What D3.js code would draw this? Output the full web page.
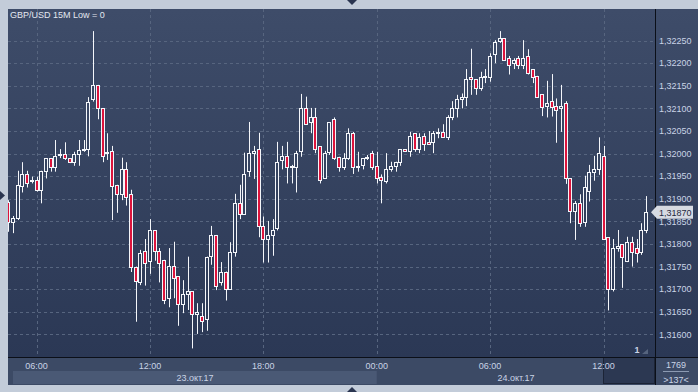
<!DOCTYPE html>
<html>
<head>
<meta charset="utf-8">
<script src="https://cdn.jsdelivr.net/npm/d3@7"></script>
<style>
  html, body { margin: 0; padding: 0; background: #c3ccd9; }
  svg { display: block; }
</style>
</head>
<body>
<svg id="chart" width="698" height="392"></svg>
<script>
// GBP/USD 15M candles, 23-24 Oct 2017. Values.

const START = new Date(2017, 9, 23, 4, 30);   // first candle
const STEP_MIN = 15;

const open = [
  1.31894, 1.31849, 1.31858, 1.31929, 1.31954, 1.31939, 1.31941, 1.31919, 1.31962, 1.31990,
  1.31970, 1.31999, 1.32000, 1.31990, 1.31981, 1.32000, 1.32009, 1.32010, 1.32120, 1.32151,
  1.32100, 1.32001, 1.32006, 1.31931, 1.31910, 1.31966, 1.31911, 1.31750, 1.31715, 1.31785,
  1.31763, 1.31831, 1.31785, 1.31765, 1.31680, 1.31751, 1.31729, 1.31667, 1.31690, 1.31696,
  1.31645, 1.31641, 1.31634, 1.31774, 1.31820, 1.31715, 1.31739, 1.31700, 1.31783, 1.31890,
  1.31866, 1.31962, 1.32001, 1.32010, 1.31840, 1.31811, 1.31820, 1.31835, 1.31986, 1.31995,
  1.31973, 1.31970, 1.32006, 1.32100, 1.32069, 1.32080, 1.32016, 1.31945, 1.32004, 1.32076,
  1.31993, 1.31970, 1.31990, 1.32045, 1.31970, 1.31975, 1.31990, 1.32001, 1.31973, 1.31949,
  1.31940, 1.31965, 1.31973, 1.31981, 1.32010, 1.32006, 1.32045, 1.32010, 1.32040, 1.32025,
  1.32025, 1.32048, 1.32048, 1.32036, 1.32080, 1.32100, 1.32121, 1.32125, 1.32170, 1.32164,
  1.32145, 1.32169, 1.32170, 1.32220, 1.32250, 1.32255, 1.32211, 1.32200, 1.32211, 1.32195,
  1.32216, 1.32187, 1.32172, 1.32131, 1.32105, 1.32116, 1.32105, 1.32101, 1.32111, 1.31945,
  1.31874, 1.31890, 1.31849, 1.31918, 1.31960, 1.31965, 1.31995, 1.31815, 1.31700, 1.31791,
  1.31799, 1.31763, 1.31804, 1.31791, 1.31783, 1.31830
];

const high = [
  1.31897, 1.31862, 1.31962, 1.31981, 1.31962, 1.31949, 1.31949, 1.31962, 1.31990, 1.31990,
  1.32030, 1.32010, 1.32025, 1.31990, 1.32004, 1.32030, 1.32030, 1.32125, 1.32271, 1.32152,
  1.32100, 1.32045, 1.32017, 1.31931, 1.31991, 1.31981, 1.31920, 1.31750, 1.31787, 1.31811,
  1.31855, 1.31831, 1.31791, 1.31765, 1.31791, 1.31805, 1.31729, 1.31720, 1.31772, 1.31696,
  1.31669, 1.31669, 1.31772, 1.31840, 1.31820, 1.31760, 1.31739, 1.31804, 1.31911, 1.31931,
  1.32002, 1.32070, 1.32017, 1.32046, 1.31861, 1.31851, 1.31855, 1.32026, 1.32017, 1.32026,
  1.31975, 1.32006, 1.32132, 1.32126, 1.32101, 1.32101, 1.32016, 1.32006, 1.32069, 1.32080,
  1.31993, 1.32001, 1.32056, 1.32048, 1.32004, 1.31990, 1.31997, 1.32006, 1.32004, 1.31954,
  1.32001, 1.31982, 1.31982, 1.32010, 1.32010, 1.32048, 1.32045, 1.32045, 1.32045, 1.32050,
  1.32050, 1.32056, 1.32065, 1.32085, 1.32116, 1.32130, 1.32133, 1.32187, 1.32232, 1.32164,
  1.32181, 1.32187, 1.32222, 1.32251, 1.32271, 1.32255, 1.32216, 1.32211, 1.32216, 1.32251,
  1.32231, 1.32187, 1.32172, 1.32131, 1.32161, 1.32176, 1.32122, 1.32152, 1.32116, 1.31945,
  1.31895, 1.31910, 1.31951, 1.31975, 1.31995, 1.32036, 1.32017, 1.31815, 1.31811, 1.31831,
  1.31799, 1.31816, 1.31816, 1.31811, 1.31846, 1.31906
];

const low = [
  1.31827, 1.31824, 1.31853, 1.31914, 1.31925, 1.31934, 1.31916, 1.31890, 1.31945, 1.31960,
  1.31960, 1.31990, 1.31986, 1.31979, 1.31973, 1.31973, 1.32004, 1.31994, 1.32115, 1.32076,
  1.31981, 1.31986, 1.31853, 1.31869, 1.31897, 1.31885, 1.31738, 1.31628, 1.31709, 1.31708,
  1.31734, 1.31763, 1.31715, 1.31667, 1.31660, 1.31680, 1.31619, 1.31647, 1.31654, 1.31569,
  1.31601, 1.31605, 1.31608, 1.31754, 1.31698, 1.31708, 1.31675, 1.31700, 1.31772, 1.31855,
  1.31866, 1.31949, 1.31944, 1.31815, 1.31759, 1.31759, 1.31774, 1.31830, 1.31965, 1.31934,
  1.31934, 1.31914, 1.31993, 1.32066, 1.32045, 1.32001, 1.31934, 1.31945, 1.31997, 1.31986,
  1.31960, 1.31964, 1.31986, 1.31955, 1.31960, 1.31965, 1.31986, 1.31964, 1.31934, 1.31890,
  1.31934, 1.31960, 1.31960, 1.31973, 1.32006, 1.31993, 1.32004, 1.32001, 1.32006, 1.32021,
  1.32001, 1.32034, 1.32036, 1.32030, 1.32074, 1.32080, 1.32100, 1.32105, 1.32130, 1.32130,
  1.32139, 1.32156, 1.32159, 1.32200, 1.32245, 1.32207, 1.32175, 1.32187, 1.32187, 1.32187,
  1.32175, 1.32156, 1.32125, 1.32083, 1.32080, 1.32082, 1.32024, 1.32048, 1.31933, 1.31846,
  1.31809, 1.31838, 1.31838, 1.31894, 1.31940, 1.31953, 1.31811, 1.31653, 1.31695, 1.31783,
  1.31703, 1.31760, 1.31750, 1.31759, 1.31776, 1.31824
];

const close = [
  1.31849, 1.31858, 1.31931, 1.31954, 1.31934, 1.31942, 1.31919, 1.31962, 1.31990, 1.31970,
  1.31994, 1.32000, 1.31990, 1.31981, 1.32000, 1.32009, 1.32010, 1.32115, 1.32151, 1.32100,
  1.31994, 1.32004, 1.31929, 1.31910, 1.31966, 1.31905, 1.31750, 1.31718, 1.31780, 1.31759,
  1.31831, 1.31785, 1.31759, 1.31675, 1.31751, 1.31724, 1.31667, 1.31690, 1.31696, 1.31645,
  1.31649, 1.31629, 1.31771, 1.31820, 1.31708, 1.31739, 1.31700, 1.31783, 1.31890, 1.31866,
  1.31954, 1.32002, 1.32006, 1.31840, 1.31811, 1.31820, 1.31831, 1.31981, 1.31995, 1.31970,
  1.31970, 1.32001, 1.32100, 1.32066, 1.32080, 1.32010, 1.31942, 1.32001, 1.32069, 1.31990,
  1.31970, 1.31990, 1.32045, 1.31970, 1.31972, 1.31990, 1.31993, 1.31970, 1.31945, 1.31942,
  1.31965, 1.31973, 1.31981, 1.32010, 1.32006, 1.32040, 1.32010, 1.32036, 1.32021, 1.32021,
  1.32045, 1.32045, 1.32036, 1.32080, 1.32100, 1.32121, 1.32125, 1.32164, 1.32165, 1.32145,
  1.32170, 1.32171, 1.32216, 1.32246, 1.32255, 1.32207, 1.32195, 1.32206, 1.32195, 1.32211,
  1.32179, 1.32170, 1.32125, 1.32104, 1.32111, 1.32104, 1.32097, 1.32105, 1.31945, 1.31874,
  1.31890, 1.31846, 1.31926, 1.31960, 1.31965, 1.32001, 1.31811, 1.31700, 1.31791, 1.31796,
  1.31771, 1.31804, 1.31783, 1.31780, 1.31830, 1.31870
];

const priceTicks = [1.3160, 1.3165, 1.3170, 1.3175, 1.3180, 1.3185, 1.3190,
                    1.3195, 1.3200, 1.3205, 1.3210, 1.3215, 1.3220, 1.3225];
const dayLabels  = ["23.окт.17", "24.окт.17"];
const titleText  = "GBP/USD 15M Low = 0";
const lastPrice  = 1.31870;
const barCount   = "1769";
const zoomText   = ">137<";
const pageText   = "1";

// Layout
const PLOT = { left: 8, top: 9, right: 655, bottom: 357 };
const FRAME_BOTTOM = 385;
const FONT = "Liberation Sans, Arial, sans-serif";
const FS = "9px";
const TXT = "#c9d4e6";

const times = open.map((_, i) => new Date(START.getTime() + i * STEP_MIN * 60000));

const x = d3.scaleTime()
  .domain([times[6], times[126]])
  .range([36.5, 603.5]);

const y = d3.scaleLinear()
  .domain([1.3160, 1.3225])
  .range([334.4, 40.6]);

const svg = d3.select("#chart");
const defs = svg.append("defs");

const grad = defs.append("linearGradient")
  .attr("id", "bg")
  .attr("gradientUnits", "userSpaceOnUse")
  .attr("x1", 0).attr("y1", PLOT.top)
  .attr("x2", 0).attr("y2", PLOT.bottom);
grad.append("stop").attr("offset", 0).attr("stop-color", "#3e4c69");
grad.append("stop").attr("offset", 1).attr("stop-color", "#2b3855");

defs.append("clipPath").attr("id", "plotClip")
  .append("rect")
  .attr("x", PLOT.left).attr("y", PLOT.top)
  .attr("width", PLOT.right - PLOT.left).attr("height", PLOT.bottom - PLOT.top);

// Outer frame triangles
const tri = (pts) => svg.append("polygon").attr("points", pts).attr("fill", "#2a3550");
tri("347,0 357,0 352,5");
tri("347,392 357,392 352,387");
tri("0,191 0,200 5,195.5");

// Panels
svg.append("rect")
  .attr("x", PLOT.left).attr("y", PLOT.top)
  .attr("width", 698 - PLOT.left).attr("height", PLOT.bottom - PLOT.top)
  .attr("fill", "url(#bg)");

svg.append("rect")
  .attr("x", PLOT.left).attr("y", PLOT.bottom)
  .attr("width", 698 - PLOT.left).attr("height", FRAME_BOTTOM - PLOT.bottom)
  .attr("fill", "#3c4a65");

// Grid
const grid = svg.append("g").attr("stroke", "#57657f").attr("stroke-dasharray", "3,3");

grid.selectAll("line.h")
  .data(priceTicks)
  .join("line")
  .attr("x1", PLOT.left).attr("x2", PLOT.right)
  .attr("y1", d => Math.round(y(d)) + 0.5)
  .attr("y2", d => Math.round(y(d)) + 0.5);

const timeTicks = x.ticks(d3.timeHour.every(6))
  .filter(t => x(t) > PLOT.left && x(t) < PLOT.right);

grid.selectAll("line.v")
  .data(timeTicks)
  .join("line")
  .attr("x1", d => Math.round(x(d)) + 0.5)
  .attr("x2", d => Math.round(x(d)) + 0.5)
  .attr("y1", PLOT.top).attr("y2", PLOT.bottom);

// Candles
const candles = svg.append("g").attr("clip-path", "url(#plotClip)");

times.forEach((t, i) => {
  const cx = Math.round(x(t));
  const up = close[i] >= open[i];
  const yTop = y(Math.max(open[i], close[i]));
  const yBot = y(Math.min(open[i], close[i]));

  candles.append("line")
    .attr("x1", cx + 0.5).attr("x2", cx + 0.5)
    .attr("y1", y(high[i])).attr("y2", y(low[i]))
    .attr("stroke", "#f4f6fa")
    .attr("stroke-width", 1);

  candles.append("rect")
    .attr("x", cx - 1.5)
    .attr("y", Math.round(yTop) + 0.5)
    .attr("width", 3)
    .attr("height", Math.max(1, Math.round(yBot) - Math.round(yTop)))
    .attr("fill", up ? "url(#bg)" : "#dc143c")
    .attr("stroke", "#f4f6fa")
    .attr("stroke-width", 1);
});

// Scroll thumb box at the right end of the time axis (under the labels)
svg.append("rect")
  .attr("x", 603.5).attr("y", 357.5)
  .attr("width", 51).attr("height", 26)
  .attr("fill", "#2c3852")
  .attr("stroke", "#1c2436");

// Axis lines
svg.append("line")
  .attr("x1", PLOT.left).attr("x2", 698)
  .attr("y1", PLOT.bottom + 0.5).attr("y2", PLOT.bottom + 0.5)
  .attr("stroke", "#0b0f18");
svg.append("line")
  .attr("x1", PLOT.right + 0.5).attr("x2", PLOT.right + 0.5)
  .attr("y1", PLOT.top).attr("y2", FRAME_BOTTOM)
  .attr("stroke", "#0b0f18");

// Price labels
const fmtPrice = d => d3.format(".5f")(d).replace(".", ",");

svg.append("g")
  .selectAll("text")
  .data(priceTicks)
  .join("text")
  .attr("x", 659)
  .attr("y", d => y(d))
  .attr("dy", "0.35em")
  .attr("font-family", FONT)
  .attr("font-size", FS)
  .attr("fill", TXT)
  .text(fmtPrice);

// Last price marker
const yl = y(lastPrice);
svg.append("polygon")
  .attr("points", `651,${yl} 657,${yl - 6.5} 693,${yl - 6.5} 693,${yl + 6.5} 657,${yl + 6.5}`)
  .attr("fill", "#d6dae2");
svg.append("text")
  .attr("x", 659).attr("y", yl).attr("dy", "0.35em")
  .attr("font-family", FONT).attr("font-size", FS)
  .attr("fill", "#1f2940")
  .text(fmtPrice(lastPrice));

// Time axis
svg.append("rect")
  .attr("x", 13).attr("y", 371)
  .attr("width", x(times[78]) - 13).attr("height", 13)
  .attr("fill", "#4a5975");

svg.append("g")
  .selectAll("text")
  .data(timeTicks)
  .join("text")
  .attr("x", d => x(d))
  .attr("y", 365.5)
  .attr("dy", "0.35em")
  .attr("text-anchor", "middle")
  .attr("font-family", FONT)
  .attr("font-size", FS)
  .attr("fill", TXT)
  .text(d3.timeFormat("%H:%M"));

const dayCenters = [195, 516];
svg.append("g")
  .selectAll("text")
  .data(dayLabels)
  .join("text")
  .attr("x", (d, i) => dayCenters[i])
  .attr("y", 377.5)
  .attr("dy", "0.35em")
  .attr("text-anchor", "middle")
  .attr("font-family", FONT)
  .attr("font-size", FS)
  .attr("fill", TXT)
  .text(d => d);

svg.append("text")
  .attr("x", 637).attr("y", 352.5)
  .attr("text-anchor", "middle")
  .attr("font-family", FONT).attr("font-size", FS).attr("font-weight", "bold")
  .attr("fill", TXT)
  .text(pageText);
svg.append("polygon")
  .attr("points", "642,354 648,354 648,349")
  .attr("fill", "#56647e");

// Bar counter on the right
svg.append("text")
  .attr("x", 676).attr("y", 365).attr("dy", "0.35em")
  .attr("text-anchor", "middle")
  .attr("font-family", FONT).attr("font-size", FS)
  .attr("fill", TXT)
  .text(barCount);
svg.append("line")
  .attr("x1", 663).attr("x2", 689)
  .attr("y1", 371.5).attr("y2", 371.5)
  .attr("stroke", "#8c9ab2");
svg.append("text")
  .attr("x", 676).attr("y", 380).attr("dy", "0.35em")
  .attr("text-anchor", "middle")
  .attr("font-family", FONT).attr("font-size", FS)
  .attr("fill", TXT)
  .text(zoomText);

// Title
svg.append("text")
  .attr("x", 10).attr("y", 14.5).attr("dy", "0.35em")
  .attr("font-family", FONT).attr("font-size", FS)
  .attr("fill", "#e3e8f0")
  .text(titleText);
</script>
</body>
</html>
